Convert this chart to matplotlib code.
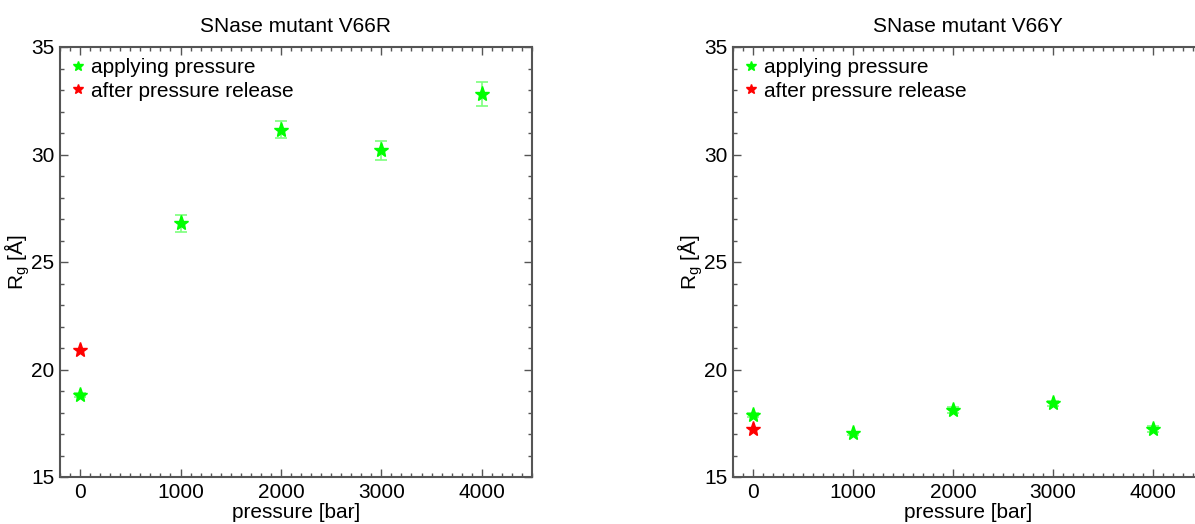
import numpy as np
import matplotlib
matplotlib.use("Agg")
import matplotlib.pyplot as plt
from matplotlib.ticker import MultipleLocator

plt.rcParams['font.family'] = ['Liberation Sans Narrow', 'Liberation Sans', 'DejaVu Sans']
plt.rcParams['mathtext.fontset'] = 'custom'
plt.rcParams['mathtext.rm'] = 'Liberation Sans'

# -------------------------------------------------------------
#                   DATA
# -------------------------------------------------------------
pressure = [0, 1000, 2000, 3000, 4000]

v66r_apply = [18.8, 26.8, 31.15, 30.2, 32.8]
v66r_apply_err = [0.1, 0.4, 0.4, 0.45, 0.55]
v66r_release_p = [0]
v66r_release = [20.9]

v66y_apply = [17.88, 17.03, 18.12, 18.42, 17.22]
v66y_apply_err = [0.1, 0.08, 0.12, 0.12, 0.15]
v66y_release_p = [0]
v66y_release = [17.22]

titles = ["SNase mutant V66R", "SNase mutant V66Y"]

GREEN = "#00ff00"
ERR_GREEN = "#7dff7d"
RED = "#ff0000"
SPINE = "#555555"


def draw_panel(ax, title, apply, apply_err, rel_p, rel):
    ax.errorbar(pressure, apply, yerr=apply_err, fmt="none",
                ecolor=ERR_GREEN, elinewidth=1.2, capsize=4, capthick=1.2, zorder=2)
    ax.plot(pressure, apply, "*", color=GREEN, markersize=11,
            label="applying pressure", zorder=3)
    ax.plot(rel_p, rel, "*", color=RED, markersize=11,
            label="after pressure release", zorder=3)

    ax.set_xlim(-200, 4500)
    ax.set_ylim(15, 35)
    ax.xaxis.set_major_locator(MultipleLocator(1000))
    ax.xaxis.set_minor_locator(MultipleLocator(100))
    ax.yaxis.set_major_locator(MultipleLocator(5))
    ax.yaxis.set_minor_locator(MultipleLocator(1))
    ax.tick_params(which="both", direction="in", top=True, right=True,
                   color=SPINE, labelsize=15, pad=4)
    ax.tick_params(which="major", length=6, width=1.0)
    ax.tick_params(which="minor", length=3, width=1.0)
    for sp in ax.spines.values():
        sp.set_color(SPINE)
        sp.set_linewidth(1.5)

    ax.set_title(title, fontsize=15, pad=11)
    ax.set_xlabel("pressure [bar]", fontsize=15, labelpad=1)
    ax.set_ylabel(r"R$_\mathregular{g}$ [Å]", fontsize=15, labelpad=-1)

    leg = ax.legend(loc="upper left", frameon=False, fontsize=15,
                    handlelength=0.6, handletextpad=0.35, markerscale=0.65,
                    labelspacing=0.2, borderaxespad=0.15)
    return leg


fig = plt.figure(figsize=(11.95, 5.24), dpi=100)
W, H = 1195.0, 524.0
ax1 = fig.add_axes([60 / W, 47 / H, 472 / W, 430 / H])
ax2 = fig.add_axes([733 / W, 47 / H, 470 / W, 430 / H])

draw_panel(ax1, titles[0], v66r_apply, v66r_apply_err, v66r_release_p, v66r_release)
draw_panel(ax2, titles[1], v66y_apply, v66y_apply_err, v66y_release_p, v66y_release)

fig.savefig("out.png", dpi=100)
